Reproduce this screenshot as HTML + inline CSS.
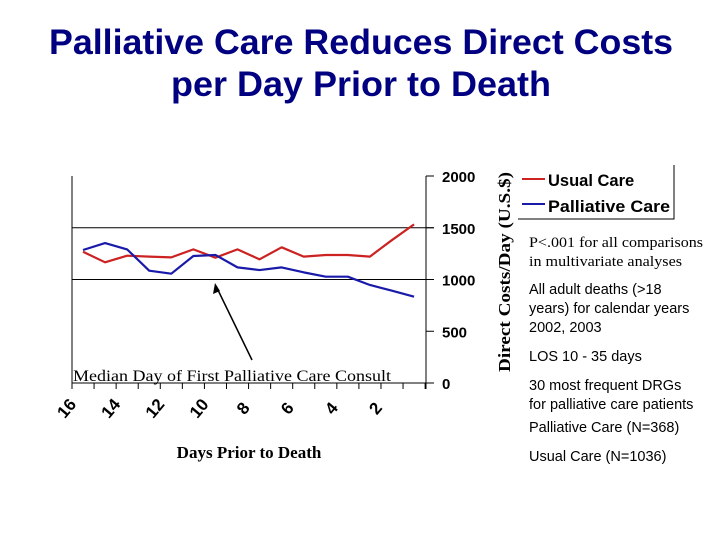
<!DOCTYPE html>
<html><head><meta charset="utf-8"><style>
body{margin:0;background:#fff;width:720px;height:540px;overflow:hidden}
svg{display:block}
.t{font-family:"Liberation Sans",Arial,sans-serif}
.s{font-family:"Liberation Serif","Times New Roman",serif}
.n{font-family:"Liberation Sans",Arial,sans-serif;font-size:14.5px}
</style></head><body>
<svg id="c" width="720" height="540" viewBox="0 0 720 540">
<text class="t" x="361" y="54" text-anchor="middle" font-size="35" font-weight="bold" fill="#000080" textLength="624" lengthAdjust="spacingAndGlyphs">Palliative Care Reduces Direct Costs</text>
<text class="t" x="361" y="96" text-anchor="middle" font-size="35" font-weight="bold" fill="#000080" textLength="380" lengthAdjust="spacingAndGlyphs">per Day Prior to Death</text>
<g id="plot"></g>
<text class="s" transform="translate(510,272) rotate(-90)" text-anchor="middle" font-size="17" font-weight="bold" textLength="200" lengthAdjust="spacingAndGlyphs">Direct Costs/Day (U.S.$)</text>
<text class="s" x="249" y="458" text-anchor="middle" font-size="17" font-weight="bold">Days Prior to Death</text>
<text class="s" x="232" y="381" text-anchor="middle" font-size="16" textLength="318" lengthAdjust="spacingAndGlyphs">Median Day of First Palliative Care Consult</text>
<line x1="252" y1="360" x2="216" y2="286" stroke="#000" stroke-width="1.5"/>
<polygon points="215,283 213,294 220,291" fill="#000"/>
<g>
<polyline points="518,219 674,219 674,165" fill="none" stroke="#000" stroke-width="1"/>
<line x1="522" y1="179" x2="545" y2="179" stroke="#cc2222" stroke-width="2"/>
<text class="t" x="548" y="186" font-size="16.5" font-weight="bold">Usual Care</text>
<line x1="522" y1="204" x2="545" y2="204" stroke="#1a1aaa" stroke-width="2"/>
<text class="t" x="548" y="212" font-size="16.5" font-weight="bold" textLength="122" lengthAdjust="spacingAndGlyphs">Palliative Care</text>
</g>
<g>
<text class="s" x="529" y="247" font-size="14.5" textLength="174" lengthAdjust="spacingAndGlyphs">P&lt;.001 for all comparisons</text>
<text class="s" x="529" y="266" font-size="14.5" textLength="153" lengthAdjust="spacingAndGlyphs">in multivariate analyses</text>
<text class="n" x="529" y="294">All adult deaths (&gt;18</text>
<text class="n" x="529" y="313">years) for calendar years</text>
<text class="n" x="529" y="332">2002, 2003</text>
<text class="n" x="529" y="361">LOS  10 - 35 days</text>
<text class="n" x="529" y="390">30 most frequent DRGs</text>
<text class="n" x="529" y="409">for palliative care patients</text>
<text class="n" x="529" y="432">Palliative Care  (N=368)</text>
<text class="n" x="529" y="461">Usual Care (N=1036)</text>
</g>
</svg>
<script>
const days = [16,15,14,13,12,11,10,9,8,7,6,5,4,3,2,1];
const usualCare = [1268,1166,1230,1221,1214,1291,1211,1291,1195,1311,1221,1237,1237,1221,1381,1533];
const palliativeCare = [1285,1352,1291,1085,1056,1227,1237,1117,1091,1117,1069,1027,1027,947,892,834];
const yTicks = [0,500,1000,1500,2000];
const xTickLabels = [16,14,12,10,8,6,4,2];
const NS="http://www.w3.org/2000/svg";
const g=document.getElementById('plot');
const X=d=>83+(16-d)*22.07;
const Y=v=>383-v*207/2000;
function mk(t,a){const e=document.createElementNS(NS,t);for(const k in a)e.setAttribute(k,a[k]);g.appendChild(e);return e;}
let e;
e=mk('line',{x1:72,y1:176,x2:72,y2:389,stroke:'#000','stroke-width':1});


e=mk('line',{x1:426,y1:176,x2:426,y2:389,stroke:'#000','stroke-width':1});


e=mk('line',{x1:72,y1:383,x2:434,y2:383,stroke:'#000','stroke-width':1});


[1000,1500].forEach(v=>{
 e=mk('line',{x1:72,y1:Y(v),x2:434,y2:Y(v),stroke:'#000','stroke-width':1});
 
 
});
yTicks.forEach(v=>{
 e=mk('line',{x1:426,y1:Y(v),x2:434,y2:Y(v),stroke:'#000','stroke-width':1});
 
 
 e=mk('text',{x:442,y:Y(v)+6,'font-size':15,'font-weight':'bold',class:'t'});
 e.textContent=v;
 
 
});
for(let d=16;d>=0;d--){
 const x=X(d)-11;
 e=mk('line',{x1:x,y1:383,x2:x,y2:389,stroke:'#000','stroke-width':1});
 
 
}
xTickLabels.forEach(d=>{
 const x=X(d)-12, y=412;
 e=mk('text',{x:x,y:y,'font-size':17,'font-weight':'bold',class:'t','text-anchor':'middle',transform:`rotate(-50 ${x} ${y})`});
 e.textContent=d;
 
 
});
function line(vals,color,name){
 e=mk('polyline',{points:vals.map((v,i)=>X(days[i])+','+Y(v)).join(' '),fill:'none',stroke:color,'stroke-width':2.2,'stroke-linejoin':'round'});
 
 
}
line(usualCare,'#cc2222','usual-care-line');
line(palliativeCare,'#1a1aaa','palliative-care-line');
</script>
</body></html>
